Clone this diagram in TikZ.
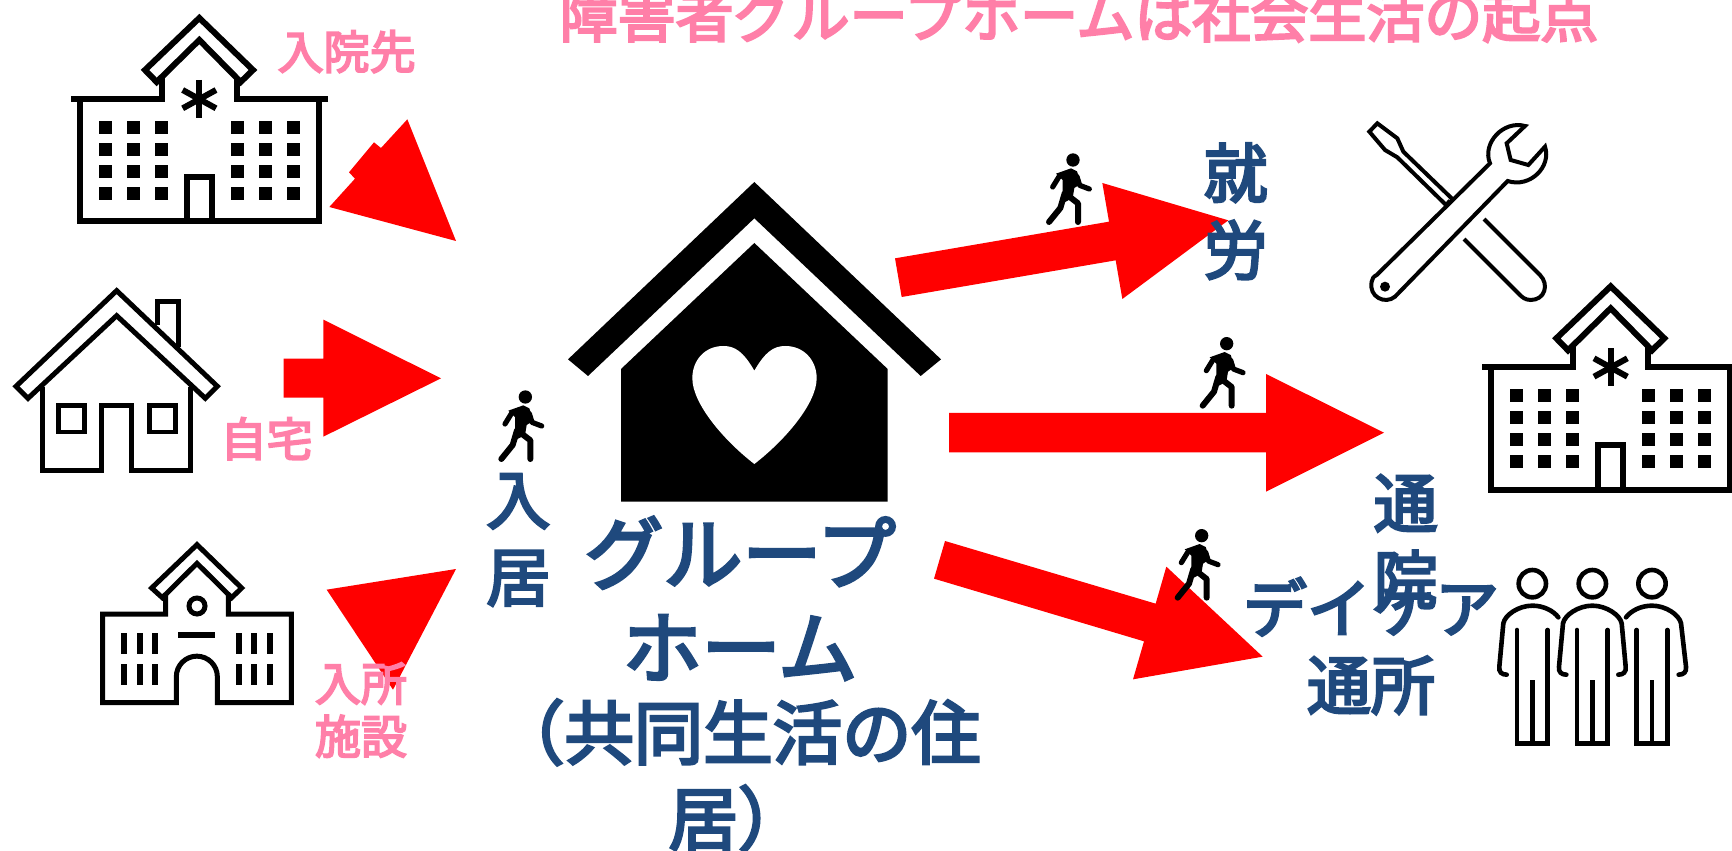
\documentclass[tikz,border=0pt]{standalone}
\usepackage{fontspec}
\setmainfont{Noto Sans CJK JP}
\newfontfamily\jpfont[FakeBold=4]{Noto Sans CJK JP}
\definecolor{pinktext}{HTML}{FF7FA8}
\definecolor{bluetext}{HTML}{1F497D}
\tikzset{
  blockarrow/.style={fill=red,draw=none},
  iconline/.style={draw=black,line width=3pt,fill=none},
  thinline/.style={draw=black,line width=2.3pt,fill=none},
  finetool/.style={draw=black,line width=2pt,fill=none},
  pinklabel/.style={text=pinktext,font=\jpfont\fontsize{23}{26.5}\selectfont,align=center,inner sep=0pt},
  bluelabel/.style={text=bluetext,font=\jpfont\fontsize{32}{38.5}\selectfont,align=center,inner sep=0pt},
}
\newcommand\hospitalicon[2]{%
\begin{scope}[shift={(#1,#2)}]
  \draw[iconline] (240,296)--(240,664)--(956,664)--(956,296);
  \draw[iconline] (213,296)--(485,296)--(485,235);
  \draw[iconline] (984,296)--(711,296)--(711,235);
  \draw[iconline] (561,664)--(561,531)--(636,531)--(636,664);
  \draw[iconline,miter limit=10] (598,54)--(759,210)--(722,246)--(598,120)--(470,246)--(435,210)--cycle;
  \draw[iconline] (598,240)--(598,353);
  \draw[iconline] (548,270)--(648,325);
  \draw[iconline] (548,325)--(648,270);
  \foreach \wx in {297,381,465,693,777,861}
    \foreach \wy in {363,429,495,561}
      \fill (\wx,\wy) rectangle ++(39,39);
\end{scope}}
\newcommand\walkericon[2]{%
\begin{scope}[shift={(#1,#2)}]
  \fill (0,0) circle (20);
  \fill (-51,41)--(-6,25)--(12,34)--(24,71)--(4,84)--(-1,114)--(-31,130)--(-31,60)--cycle;
  \draw[black,line width=2.6pt,line cap=round,line join=round] (-42,50)--(-61,81);
  \draw[black,line width=2.6pt,line cap=round,line join=round] (12,50)--(20,76)--(49,87);
  \draw[black,line width=3pt,line cap=round,line join=round] (-25,100)--(-38,144)--(-72,186);
  \draw[black,line width=3pt,line cap=round,line join=round] (-16,106)--(15,130)--(15,186);
\end{scope}}
\newcommand\personlegs[1]{%
  \draw[thinline,line cap=round] (#1-46,270)--(#1-46,610)--(#1+46,610)--(#1+46,270);
  \draw[thinline] (#1,420)--(#1,610);
  \draw[thinline] (#1,131) circle (41);
}
\begin{document}
\begin{tikzpicture}[x=0.16667pt,y=-0.16667pt]
\clip (0,0) rectangle (5196,2553);
\useasboundingbox (0,0) rectangle (5196,2553);
\fill[white] (0,0) rectangle (5196,2553);

% title
\node[text=pinktext,font=\jpfont\fontsize{29}{33}\selectfont,inner sep=0pt] (title) at (3237,46) {障害者グループホームは社会生活の起点};

% red block arrows
\fill[blockarrow] (1368,723)--(1222,358)--(1143,444)--(1122,427)--(1047,517)--(1065,536)--(988,621)--cycle;
\fill[blockarrow] (851,1076)--(970,1076)--(970,959)--(1323,1135)--(970,1310)--(970,1193)--(851,1193)--cycle;
\fill[blockarrow] (980,1769)--(1368,1707)--(1179,2069)--cycle;
\fill[blockarrow] (2685,775)--(3327,665)--(3307,549)--(3685,661)--(3367,897)--(3347,781)--(2705,891)--cycle;
\fill[blockarrow] (2847,1239)--(3798,1239)--(3798,1122)--(4152,1298)--(3798,1475)--(3798,1357)--(2847,1357)--cycle;
\fill[blockarrow] (2835,1623)--(3467,1811)--(3499,1700)--(3788,1970)--(3399,2038)--(3432,1924)--(2802,1736)--cycle;

% hospitals
\hospitalicon{0}{0}
\hospitalicon{4234}{805}

% home on the left
\begin{scope}[shift={(0,810)}]
  \draw[iconline,line width=2.5pt,miter limit=10] (350,62)--(652,349)--(616,385)--(350,137)--(84,385)--(48,349)--cycle;
  \draw[iconline,line width=2.5pt] (128,350)--(128,600)--(305,600)--(305,408)--(395,408)--(395,600)--(572,600)--(572,350);
  \draw[iconline,line width=2.5pt] (174,408) rectangle (252,486);
  \draw[iconline,line width=2.5pt] (449,408) rectangle (526,486);
  \draw[iconline,line width=2.5pt] (471,165)--(471,95)--(534,95)--(534,230);
\end{scope}

% facility
\begin{scope}[shift={(180,1560)}]
  \draw[iconline,line width=2.5pt,miter limit=10] (411,74)--(545,204)--(515,233)--(411,130)--(307,233)--(275,204)--cycle;
  \draw[iconline,line width=2.5pt] (317,225)--(317,282)--(128,282)--(128,548)--(349,548)--(349,470) arc[start angle=180,end angle=0,x radius=61.5,y radius=-61.5]--(472,548)--(694,548)--(694,282)--(505,282)--(505,225);
  \draw[iconline,line width=2.5pt] (411,258) circle (24);
  \fill (354,336) rectangle (465,354);
  \foreach \bx in {183,231,276,528,573,621}
    \foreach \by in {339,432}
      \fill (\bx,\by) rectangle ++(18,63);
\end{scope}

% big house
\begin{scope}[shift={(1440,450)}]
  \fill (823,96)--(1383,628)--(1322,678)--(823,205)--(324,678)--(264,628)--cycle;
  \fill (823,279)--(1223,657)--(1223,1055)--(423,1055)--(423,657)--cycle;
  \fill[white] (823,662) .. controls (790,605) and (765,588) .. (730,588)
     .. controls (675,588) and (637,630) .. (637,685)
     .. controls (637,760) and (730,870) .. (823,942)
     .. controls (916,870) and (1010,760) .. (1010,685)
     .. controls (1010,630) and (971,588) .. (916,588)
     .. controls (881,588) and (856,605) .. (823,662) -- cycle;
\end{scope}

% tools
\begin{scope}[shift={(4020,300)}]
  \draw[finetool,line join=miter] (338,298)--(190,155)--(172,115)--(112,70)--(88,95)--(135,150)--(172,172)--(318,315)--(330,302);
  \draw[finetool] (432,357)--(600,525) .. controls (628,553) and (615,600) .. (572,600) .. controls (555,600) and (545,590) .. (540,585)--(372,417);
  \draw[finetool] (450,190) .. controls (425,130) and (490,60) .. (555,78) -- (500,130) -- (512,180) -- (565,195) -- (615,140) .. controls (635,200) and (570,265) .. (503,243) -- (165,590)
    .. controls (135,615) and (85,590) .. (95,545) .. controls (97,535) and (100,530) .. (110,525) -- cycle;
  \fill (135,560) circle (15);
\end{scope}

% people
\begin{scope}[shift={(4320,1620)}]
  \personlegs{277}
  \personlegs{457}
  \personlegs{636}
  \draw[thinline,line cap=round] (200,404) .. controls (185,404) and (176,396) .. (178,380) -- (190,250) .. controls (195,225) and (235,197) .. (277,197) .. controls (310,197) and (340,212) .. (355,232);
  \draw[thinline,line cap=round] (379,404) .. controls (364,404) and (355,396) .. (357,380) -- (369,250) .. controls (374,225) and (415,197) .. (457,197) .. controls (499,197) and (540,225) .. (545,250) -- (557,380) .. controls (559,396) and (550,404) .. (535,404);
  \draw[thinline,line cap=round] (558,232) .. controls (573,212) and (603,197) .. (636,197) .. controls (678,197) and (718,225) .. (723,250) -- (738,380) .. controls (740,396) and (731,404) .. (716,404);
\end{scope}

% walkers
\walkericon{1576}{1191}
\walkericon{3219}{480}
\walkericon{3680}{1031}
\walkericon{3605}{1607}

% pink labels
\node[pinklabel] (hosp) at (1040,155) {入院先};
\node[pinklabel] (jitaku) at (800,1316) {自宅};
\node[pinklabel] (shisetsu) at (1083,2130) {入所\\施設};

% blue labels
\node[bluelabel] (nyukyo) at (1555,1620) {入\\居};
\node[bluelabel] (shuro) at (3707,634) {就\\労};
\node[bluelabel] (tsuin) at (4217,1626) {通\\院};
\node[bluelabel] (daycare) at (4113,1938) {デイケア\\通所};
\node[text=bluetext,font=\jpfont\fontsize{39.5}{47}\selectfont,align=center,inner sep=0pt] (gh) at (2220,1795) {グループ\\ホーム};
\node[text=bluetext,font=\jpfont\fontsize{34.7}{43}\selectfont,align=center,inner sep=0pt] (gh2) at (2214,2326) {（共同生活の住\\居）};
\end{tikzpicture}
\end{document}
